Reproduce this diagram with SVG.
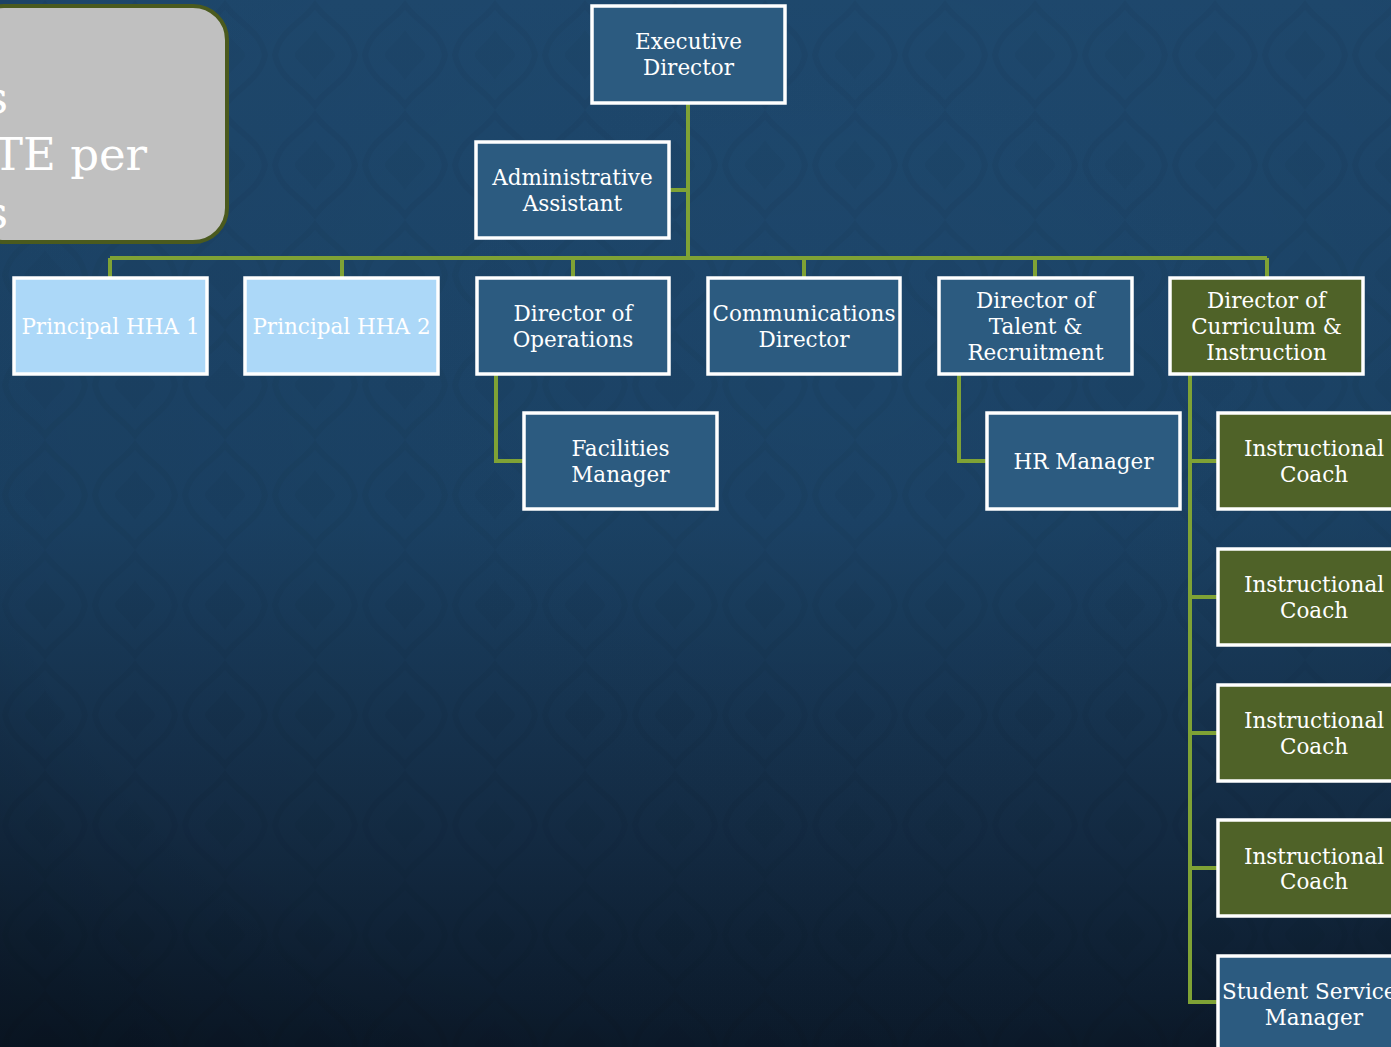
<svg xmlns="http://www.w3.org/2000/svg" width="1391" height="1047" viewBox="0 0 1391 1047">
<defs>
<linearGradient id="bg" x1="0" y1="0" x2="0" y2="1">
<stop offset="0" stop-color="#1f4a70"/>
<stop offset="0.5" stop-color="#1b4265"/>
<stop offset="0.8" stop-color="#142c45"/>
<stop offset="1" stop-color="#0c1b2c"/>
</linearGradient>
<radialGradient id="vig" cx="0.6" cy="0.35" r="0.85">
<stop offset="0" stop-color="#000" stop-opacity="0"/>
<stop offset="0.75" stop-color="#000" stop-opacity="0.06"/>
<stop offset="1" stop-color="#000" stop-opacity="0.25"/>
</radialGradient>
<pattern id="dm" width="90" height="110" patternUnits="userSpaceOnUse">
<path d="M45 5 C60 25 80 30 85 55 C80 80 60 85 45 105 C30 85 10 80 5 55 C10 30 30 25 45 5 Z" fill="none" stroke="#000" stroke-opacity="0.035" stroke-width="6"/>
<path d="M45 30 C55 45 65 50 65 55 C65 60 55 65 45 80 C35 65 25 60 25 55 C25 50 35 45 45 30 Z" fill="#000" fill-opacity="0.03"/>
</pattern>
<style>
.n rect{stroke:#ffffff;stroke-width:3.5}
.blue rect{fill:#2c5b80}
.light rect{fill:#acd8f8}
.olive rect{fill:#4f6228}
.n text{font-family:"DejaVu Serif","Liberation Serif",serif;font-size:21.5px;fill:#ffffff;text-anchor:middle}
.conn path{fill:none;stroke:#7fa235;stroke-width:4}
</style>
</defs>
<rect width="1391" height="1047" fill="url(#bg)"/>
<rect width="1391" height="1047" fill="url(#dm)"/>
<rect width="1391" height="1047" fill="url(#vig)"/>

<g id="callout">
<rect x="-30" y="6" width="257" height="236" rx="34" fill="#c0c0c0" stroke="#4a5a1e" stroke-width="4"/>
<g font-family="DejaVu Serif, Liberation Serif, serif" font-size="45" fill="#ffffff">
<text x="-15" y="113">s</text>
<text x="-7" y="170">TE per</text>
<text x="-15" y="228">s</text>
</g>
</g>

<g id="connectors" class="conn">
<path d="M688 103 V258"/>
<path d="M669 190 H688"/>
<path d="M110 258 H1267"/>
<path d="M110 258 V278 M342 258 V278 M573 258 V278 M804 258 V278 M1035 258 V278 M1267 258 V278"/>
<path d="M496 374 V461 H524"/>
<path d="M959 374 V461 H987"/>
<path d="M1190 374 V1002 H1218 M1190 461 H1218 M1190 597 H1218 M1190 733 H1218 M1190 868 H1218"/>
</g>

<g id="exec" class="n blue"><rect x="592" y="6" width="193" height="97"/><text x="688.5" y="49">Executive</text><text x="688.5" y="75">Director</text></g>
<g id="admin" class="n blue"><rect x="476" y="142" width="193" height="96"/><text x="572.5" y="185">Administrative</text><text x="572.5" y="211">Assistant</text></g>

<g id="principal1" class="n light"><rect x="14" y="278" width="193" height="96"/><text x="110.5" y="334">Principal HHA 1</text></g>
<g id="principal2" class="n light"><rect x="245" y="278" width="193" height="96"/><text x="341.5" y="334">Principal HHA 2</text></g>
<g id="ops" class="n blue"><rect x="477" y="278" width="192" height="96"/><text x="573" y="321">Director of</text><text x="573" y="347">Operations</text></g>
<g id="comm" class="n blue"><rect x="708" y="278" width="192" height="96"/><text x="804" y="321">Communications</text><text x="804" y="347">Director</text></g>
<g id="talent" class="n blue"><rect x="939" y="278" width="193" height="96"/><text x="1035.5" y="308">Director of</text><text x="1035.5" y="334">Talent &amp;</text><text x="1035.5" y="360">Recruitment</text></g>
<g id="curriculum" class="n olive"><rect x="1170" y="278" width="193" height="96"/><text x="1266.5" y="308">Director of</text><text x="1266.5" y="334">Curriculum &amp;</text><text x="1266.5" y="360">Instruction</text></g>

<g id="facilities" class="n blue"><rect x="524" y="413" width="193" height="96"/><text x="620.5" y="456">Facilities</text><text x="620.5" y="482">Manager</text></g>
<g id="hr" class="n blue"><rect x="987" y="413" width="193" height="96"/><text x="1083.5" y="469">HR Manager</text></g>

<g id="coach1" class="n olive"><rect x="1218" y="413" width="193" height="96"/><text x="1314" y="456">Instructional</text><text x="1314" y="482">Coach</text></g>
<g id="coach2" class="n olive"><rect x="1218" y="549" width="193" height="96"/><text x="1314" y="592">Instructional</text><text x="1314" y="618">Coach</text></g>
<g id="coach3" class="n olive"><rect x="1218" y="685" width="193" height="96"/><text x="1314" y="728">Instructional</text><text x="1314" y="754">Coach</text></g>
<g id="coach4" class="n olive"><rect x="1218" y="820" width="193" height="96"/><text x="1314" y="864">Instructional</text><text x="1314" y="889">Coach</text></g>
<g id="ssm" class="n blue"><rect x="1218" y="956" width="193" height="110"/><text x="1222" y="999" style="text-anchor:start">Student Service</text><text x="1314" y="1025">Manager</text></g>
</svg>
